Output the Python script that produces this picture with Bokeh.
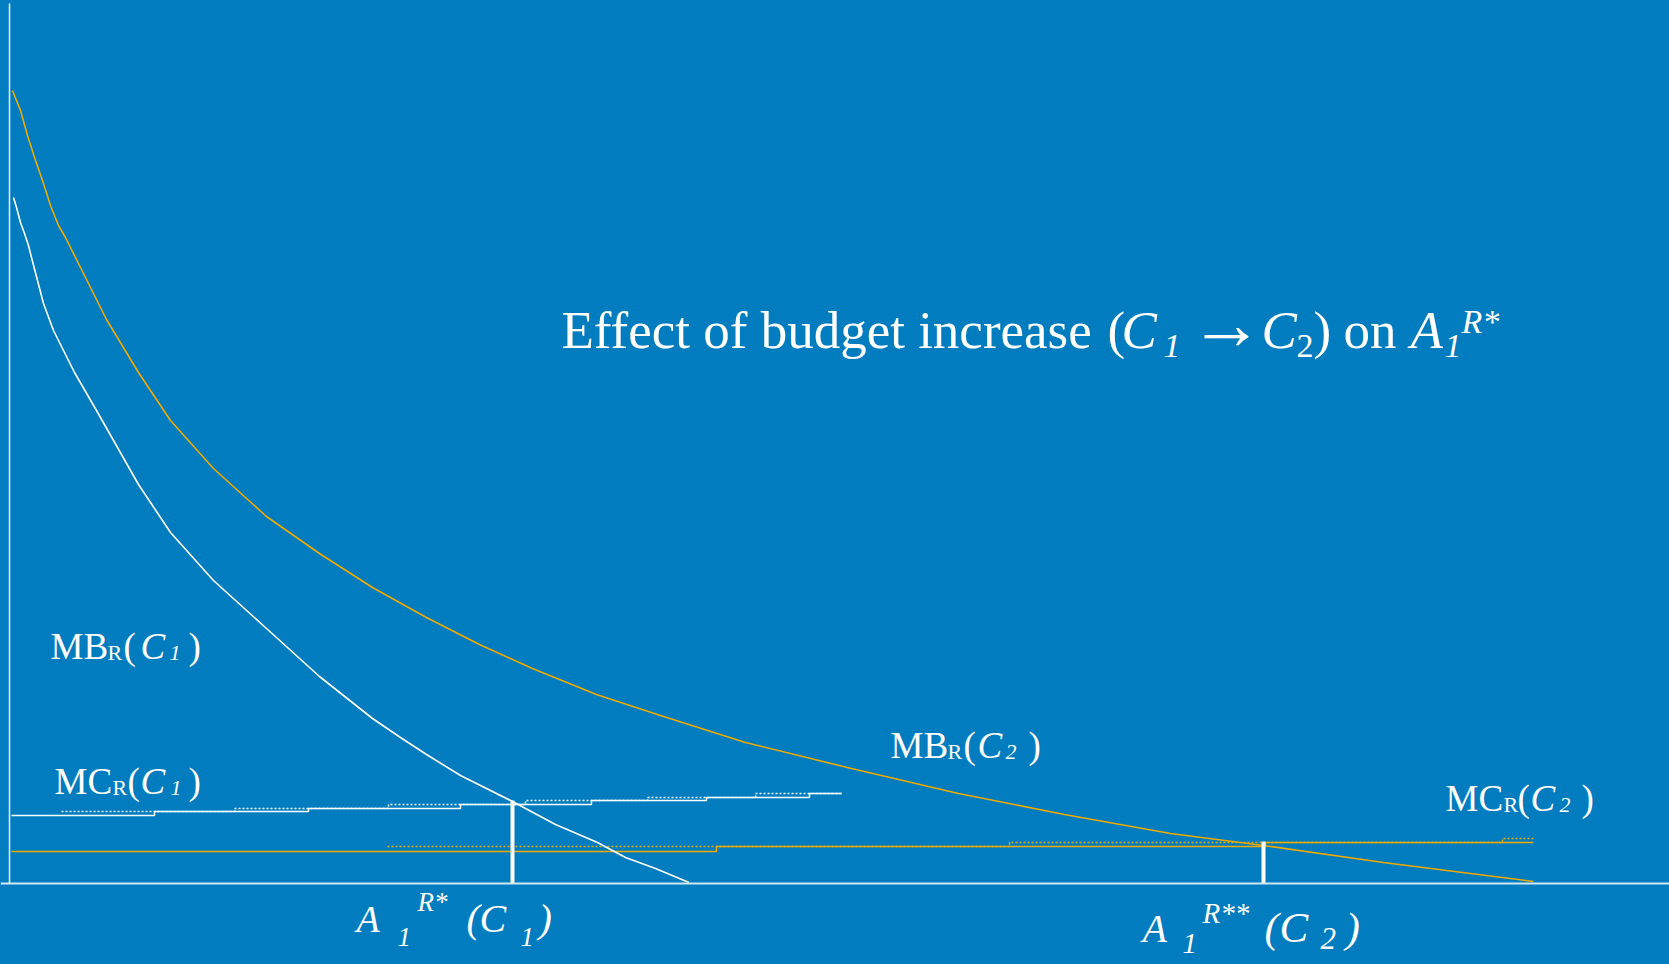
from bokeh.plotting import figure
from bokeh.models import Label, LinearAxis, FixedTicker, Range1d, GlobalInlineStyleSheet
from bokeh.embed import file_html
from bokeh.resources import INLINE

BG = "#017CBF"
ORANGE = "#F2A900"
WHITE = "#FFFFFF"
FONT = "Liberation Serif"

# ---- data ----
# marginal benefit of reduction, budget C2 (orange)
mb2_x = [0.35, 1.15, 1.85, 2.65, 3.35, 4.15, 4.95, 5.65, 7.65, 9.75, 12.95, 16.15, 20.45,
         25.75, 31.05, 36.35, 41.75, 47.05, 52.35, 58.75, 65.15, 73.65, 84.25, 94.95,
         105.55, 116.15, 125.45, 137.45, 152.45]
mb2_y = [79.3, 77.3, 74.8, 72.3, 70.3, 67.8, 65.8, 64.6, 60.6, 56.4, 51.1, 46.3, 41.5,
         36.7, 33.0, 29.6, 26.6, 23.9, 21.5, 18.9, 16.8, 14.1, 11.5, 9.0,
         6.9, 5.0, 3.8, 2.1, 0.2]
# marginal benefit of reduction, budget C1 (white)
mb1_x = [0.45, 0.75, 1.15, 1.55, 1.95, 2.25, 3.45, 4.45, 6.55, 8.75, 10.85, 12.95, 16.15,
         20.45, 25.75, 31.05, 36.35, 39.15, 41.75, 45.15, 50.35, 54.65, 58.85, 61.65,
         64.65, 68.0]
mb1_y = [68.6, 67.6, 66.1, 65.0, 63.8, 62.6, 58.0, 55.3, 51.1, 47.3, 43.6, 39.9, 35.1,
         30.3, 25.5, 20.7, 16.5, 14.6, 12.9, 10.8, 8.2, 5.9, 4.1, 2.6,
         1.5, 0.1]
# marginal cost of reduction, budget C1 (white step line and its dotted echo)
mc1_x = [0.25, 14.55, 29.95, 45.15, 58.25, 69.75, 80.05, 83.25]
mc1_y = [6.8, 7.2, 7.5, 7.9, 8.3, 8.6, 9.0, 9.0]
mc1_echo_x = [5.25, 22.55, 37.95, 51.65, 63.85, 74.65, 83.25]
mc1_echo_y = [7.2, 7.5, 7.9, 8.3, 8.6, 9.0, 9.0]
# marginal cost of reduction, budget C2 (orange step line and its dotted echo)
mc2_x = [0.25, 70.75, 125.65, 152.45]
mc2_y = [3.2, 3.7, 4.1, 4.1]
mc2_echo_x = [37.85, 100.05, 149.35, 152.45]
mc2_echo_y = [3.7, 4.1, 4.5, 4.5]
# optimal abatement levels and the cost level where the curves cross
a_opt = [50.35, 125.45]
a_opt_level = [8.3, 4.2]

W, H = 1669, 964
p = figure(width=W, height=H, output_backend="svg", toolbar_location=None,
           x_range=Range1d(-0.85, -0.85 + W / 10), y_range=Range1d(88.3 - H / 10, 88.3),
           x_axis_type=None, y_axis_type=None, min_border=0,
           background_fill_color=BG, border_fill_color=BG, outline_line_color=None)
p.stylesheets = [GlobalInlineStyleSheet(
    css="html, body { margin: 0; padding: 0; background-color: %s; overflow: hidden; }" % BG)]

xax = LinearAxis(fixed_location=0, ticker=FixedTicker(ticks=[]),
                 axis_line_color="#CFE6F4", axis_line_width=2,
                 major_tick_line_color=None, minor_tick_line_color=None,
                 major_label_text_font_size="0px")
yax = LinearAxis(fixed_location=0, ticker=FixedTicker(ticks=[]), bounds=(0, 88.0),
                 axis_line_color=WHITE, axis_line_width=1.5,
                 major_tick_line_color=None, minor_tick_line_color=None,
                 major_label_text_font_size="0px")
p.add_layout(xax, "below")
p.add_layout(yax, "left")

# curves
p.step(mc1_echo_x, mc1_echo_y, mode="after", line_color=WHITE, line_width=1.5, line_dash="2 2")
p.step(mc1_x, mc1_y, mode="after", line_color=WHITE, line_width=1.5)
p.step(mc2_echo_x, mc2_echo_y, mode="after", line_color=ORANGE, line_width=1.5, line_dash="2 2")
p.step(mc2_x, mc2_y, mode="after", line_color=ORANGE, line_width=1.5)
p.line(mb2_x, mb2_y, line_color=ORANGE, line_width=1.6)
p.line(mb1_x, mb1_y, line_color=WHITE, line_width=1.6)
p.segment(x0=a_opt, y0=[0] * len(a_opt), x1=a_opt, y1=a_opt_level, line_color=WHITE, line_width=4)

K = 0.40  # lift that puts the drawn baseline on the anchor


def rich(x0, y0, pieces):
    for txt, dx, dy, size, style in pieces:
        p.add_layout(Label(x=x0, y=y0, x_offset=dx, y_offset=dy + K * size, text=txt,
                           text_font=FONT, text_font_size="%dpx" % size,
                           text_font_style=style, text_color=WHITE,
                           text_baseline="alphabetic", text_align="left"))


N, I = "normal", "italic"
# title
rich(55.25, 53.2, [("Effect of budget increase", 0, 0, 53, N), ("(", 546, 0, 53, N),
                   ("C", 560, 0, 53, I), ("1", 602, -8, 34, I), ("\u2192", 628, -2, 74, N),
                   ("C", 700, 0, 53, I), ("2", 735, -8, 34, N), (")", 752, 0, 53, N),
                   ("on", 782, 0, 53, N), ("A", 849, 0, 53, I), ("1", 883, -8, 34, I),
                   ("R*", 900, 16, 34, I)])
# curve labels
rich(4.15, 22.2, [("MB", 0, 0, 37, N), ("R", 57, 0, 22, N), ("(", 73, 0, 37, N),
                  ("C", 90, 0, 37, I), ("1", 119, 0, 22, I), (")", 138, 0, 37, N)])
rich(4.55, 8.7, [("MC", 0, 0, 37, N), ("R", 58, 0, 22, N), ("(", 73, 0, 37, N),
                 ("C", 86, 0, 37, I), ("1", 116, 0, 22, I), (")", 134, 0, 37, N)])
rich(88.15, 12.3, [("MB", 0, 0, 37, N), ("R", 57, 0, 22, N), ("(", 73, 0, 37, N),
                   ("C", 87, 0, 37, I), ("2", 115, 0, 22, I), (")", 138, 0, 37, N)])
rich(143.65, 7.0, [("MC", 0, 0, 37, N), ("R", 58, 0, 22, N), ("(", 72, 0, 37, N),
                   ("C", 85, 0, 37, I), ("2", 114, 0, 22, I), (")", 136, 0, 37, N)])
# axis labels for the optimal levels
rich(34.75, -5.1, [("A", 0, 0, 38, I), ("1", 41, -13, 27, I), ("R*", 61, 22, 27, I),
                   ("(", 110, 0, 40, I), ("C", 123, 0, 40, I), ("1", 164, -13, 27, I),
                   (")", 182, 0, 40, I)])
rich(113.35, -6.1, [("A", 0, 0, 40, I), ("1", 40, -11, 29, I), ("R**", 60, 20, 29, I),
                    ("(", 122, 0, 43, I), ("C", 137, 0, 43, I), ("2", 178, -6, 31, I),
                    (")", 203, 0, 43, I)])

open("out.html", "w").write(file_html(p, INLINE))
